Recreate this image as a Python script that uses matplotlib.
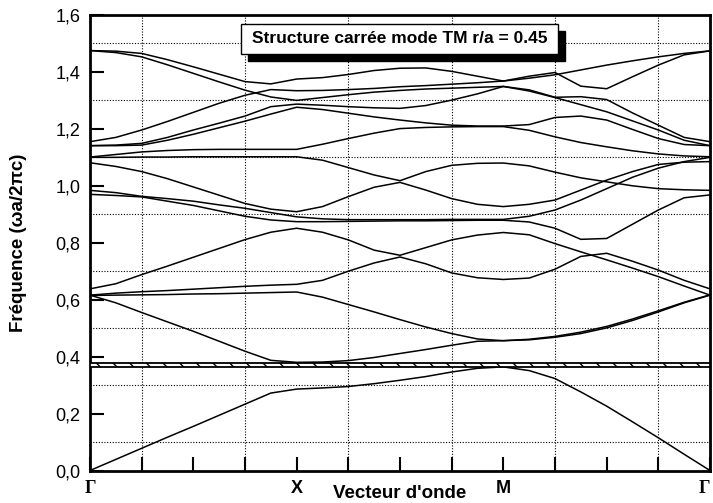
"""
Structure de bandes d'un cristal photonique carré (mode TM, r/a = 0.45).
"""
import matplotlib.pyplot as plt
import numpy as np
from matplotlib.patches import Rectangle

plt.rcParams['font.family'] = ['Liberation Sans', 'DejaVu Sans']
plt.rcParams['hatch.linewidth'] = 1.0

# chemin Γ -> X -> M -> Γ, 12 divisions (pas de 0.5)
k = np.arange(25) * 0.5

b1 = [0, .039, .078, .117, .155, .194, .233, .272, .286, .290, .295, .305, .317,
      .330, .346, .359, .364, .351, .323, .276, .226, .171, .115, .057, 0]
b2 = [.616, .589, .555, .522, .489, .454, .419, .387, .380, .381, .386, .397, .411,
      .425, .440, .454, .456, .459, .468, .481, .501, .527, .557, .589, .616]
b3 = [.615, .616, .617, .618, .620, .621, .623, .625, .627, .609, .583, .557, .530,
      .504, .481, .462, .456, .461, .471, .486, .506, .532, .561, .591, .617]
b4 = [.616, .623, .628, .632, .637, .642, .647, .651, .654, .668, .700, .729, .750,
      .726, .694, .677, .671, .676, .707, .752, .763, .735, .704, .668, .638]
b5 = [.638, .656, .688, .718, .749, .780, .811, .837, .851, .837, .810, .774, .756,
      .783, .810, .827, .836, .828, .797, .768, .740, .711, .681, .648, .616]
b6 = [.970, .966, .961, .946, .931, .912, .893, .880, .874, .874, .875, .876, .877,
      .877, .878, .879, .879, .873, .851, .812, .815, .865, .915, .958, .968]
b7 = [.984, .976, .963, .955, .946, .933, .921, .906, .891, .884, .881, .881, .881,
      .881, .882, .882, .882, .893, .915, .950, .990, 1.030, 1.062, 1.085, 1.100]
b8 = [1.081, 1.068, 1.050, 1.025, .996, .967, .938, .918, .909, .927, .962, .995, 1.012,
      .985, .955, .935, .927, .935, .950, .985, 1.020, 1.050, 1.075, 1.083, 1.085]
b9 = [1.100, 1.100, 1.101, 1.101, 1.102, 1.102, 1.102, 1.102, 1.102, 1.090, 1.064, 1.038, 1.018,
      1.050, 1.072, 1.079, 1.080, 1.070, 1.048, 1.028, 1.014, 1.000, .990, .986, .984]
b10 = [1.101, 1.110, 1.119, 1.124, 1.127, 1.128, 1.128, 1.128, 1.128, 1.146, 1.166, 1.185, 1.201,
       1.205, 1.207, 1.208, 1.208, 1.195, 1.172, 1.152, 1.137, 1.123, 1.112, 1.105, 1.102]
b11 = [1.141, 1.141, 1.143, 1.160, 1.181, 1.204, 1.227, 1.252, 1.276, 1.268, 1.255, 1.242, 1.231,
       1.221, 1.213, 1.210, 1.210, 1.215, 1.240, 1.245, 1.231, 1.198, 1.166, 1.145, 1.141]
b12 = [1.141, 1.143, 1.149, 1.170, 1.196, 1.220, 1.245, 1.278, 1.287, 1.283, 1.278, 1.274, 1.272,
       1.282, 1.301, 1.323, 1.349, 1.333, 1.310, 1.285, 1.260, 1.228, 1.196, 1.160, 1.141]
b13 = [1.475, 1.468, 1.453, 1.425, 1.395, 1.365, 1.336, 1.312, 1.300, 1.310, 1.320, 1.329, 1.335,
       1.340, 1.343, 1.346, 1.349, 1.337, 1.311, 1.313, 1.303, 1.256, 1.213, 1.170, 1.155]
b14 = [1.155, 1.170, 1.196, 1.226, 1.258, 1.290, 1.318, 1.338, 1.334, 1.335, 1.338, 1.342, 1.348,
       1.352, 1.357, 1.362, 1.368, 1.385, 1.398, 1.350, 1.341, 1.383, 1.424, 1.460, 1.474]
b15 = [1.475, 1.473, 1.465, 1.443, 1.418, 1.392, 1.366, 1.358, 1.375, 1.380, 1.391, 1.405, 1.413,
       1.414, 1.402, 1.385, 1.368, 1.378, 1.390, 1.407, 1.424, 1.439, 1.453, 1.465, 1.474]
bandes = [b1, b2, b3, b4, b5, b6, b7, b8, b9, b10, b11, b12, b13, b14, b15]

# bande interdite
gap_bas = 0.3625
gap_haut = 0.379

points_sym = [0, 4, 8, 12]
noms_sym = ["Γ", "X", "M", "Γ"]
graduations_y = [0.0, 0.2, 0.4, 0.6, 0.8, 1.0, 1.2, 1.4, 1.6]
etiquettes_y = ["0,0", "0,2", "0,4", "0,6", "0,8", "1,0", "1,2", "1,4", "1,6"]
grille_x = [1, 3, 5, 7, 9, 11]
grille_y = [0.1, 0.3, 0.5, 0.7, 0.9, 1.1, 1.3, 1.5]

fig = plt.figure(figsize=(7.13, 5.03), dpi=100)
ax = fig.add_axes([0.1262, 0.0646, 0.8696, 0.9056])

# grille pointillée
style_grille = dict(color="black", linestyle=(0, (1, 1.5)), lw=0.8, zorder=0.5)
for gx in grille_x:
    ax.axvline(gx, **style_grille)
for gy in grille_y:
    ax.axhline(gy, **style_grille)

for b in bandes:
    ax.plot(k, b, color="black", lw=1.1, solid_joinstyle="miter")

ax.add_patch(Rectangle((0, gap_bas), 12, gap_haut - gap_bas, facecolor="white",
                       edgecolor="black", hatch="\\\\", lw=1.3, zorder=3))

ax.set_xlim(0, 12)
ax.set_ylim(0, 1.6)

ax.set_xticks(range(13))
ax.set_xticklabels([noms_sym[points_sym.index(i)] if i in points_sym else "" for i in range(13)])
ax.set_yticks(graduations_y)
ax.set_yticklabels(etiquettes_y, fontsize=13)

ax.tick_params(axis="both", which="major", direction="in", length=10, width=1.5)
ax.tick_params(axis="y", pad=7)
ax.tick_params(axis="x", pad=7)
xlabs = ax.get_xticklabels()
for lab in xlabs:
    if lab.get_text() == "Γ":
        lab.set_fontfamily(["Liberation Serif", "DejaVu Serif"])
    lab.set_fontweight("bold")
    lab.set_fontsize(13)
xlabs[-1].set_horizontalalignment("right")

for s in ax.spines.values():
    s.set_linewidth(2)

ax.set_ylabel("Fréquence (ωa/2πc)", fontsize=13.5, fontweight="bold")
ax.yaxis.set_label_coords(-0.102, 0.5)
ax.set_xlabel("Vecteur d'onde", fontsize=13.5, fontweight="bold")
ax.xaxis.set_label_coords(0.5, -0.032)

# cartouche du titre avec ombre
ax.add_patch(Rectangle((0.255, 0.899), 0.511, 0.066, transform=ax.transAxes,
                       facecolor="black", edgecolor="black", zorder=5, clip_on=False))
ax.add_patch(Rectangle((0.2435, 0.9144), 0.5113, 0.066, transform=ax.transAxes,
                       facecolor="white", edgecolor="black", lw=1, zorder=6, clip_on=False))
ax.text(0.4992, 0.9474, "Structure carrée mode TM r/a = 0.45", transform=ax.transAxes,
        ha="center", va="center", fontsize=12.5, fontweight="bold", zorder=7)

plt.savefig("out.png", dpi=100)
